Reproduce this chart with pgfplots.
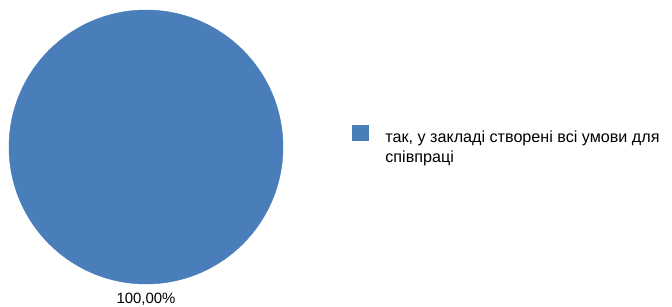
\documentclass[border=0pt]{standalone}
\usepackage{pgfplots}
\pgfplotsset{compat=1.18}
\usepackage{fontspec}
\setmainfont{Liberation Sans}
\definecolor{pieblue}{HTML}{4A7EBB}
\begin{document}
\begin{tikzpicture}
\begin{axis}[
  scale only axis, width=672bp, height=307bp,
  xmin=0, xmax=672, ymin=0, ymax=307,
  hide axis, clip=false,
  legend style={draw=none, fill=none, at={(352/672,182/307)}, anchor=north west,
    inner sep=0pt, outer sep=0pt, font=\fontsize{16.2}{20}\selectfont,
    cells={align=left, anchor=north west},
    /tikz/every odd column/.append style={column sep=15bp}},
  legend image code/.code={\fill[pieblue] (0bp,-11bp) rectangle (16bp,4bp);},
]
\addplot[only marks, mark=*, mark size=137bp, color=pieblue,
  point meta=explicit symbolic, nodes near coords,
  nodes near coords style={anchor=north, yshift=-146bp, inner sep=0pt, text=black,
    font=\fontsize{15}{17}\selectfont}]
  coordinates {(146,160) [100,00\%]};
\addlegendentry{так, у закладі створені всі умови для\\співпраці}
\end{axis}
\path (0,0) rectangle (672bp,307bp);
\end{tikzpicture}
\end{document}
